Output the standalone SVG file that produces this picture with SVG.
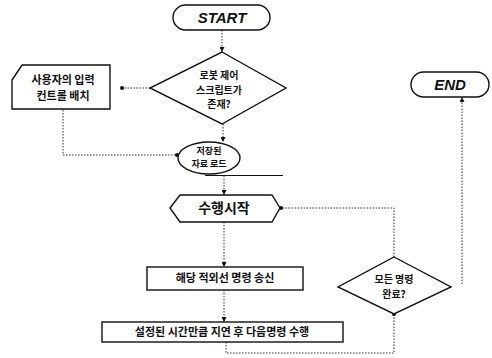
<svg xmlns="http://www.w3.org/2000/svg" width="492" height="358" viewBox="0 0 492 358">
<defs>
<style>
.shape{fill:#fff;stroke:#111;stroke-width:1.4}
.conn{fill:none;stroke:#333;stroke-width:1;stroke-dasharray:1.5 1.5}
.t{font-family:"Noto Sans CJK KR","Noto Sans",sans-serif;font-weight:bold;font-size:11px;fill:#111;text-anchor:middle}
.s10{font-size:10px}
.s9{font-size:9px}
.big{font-size:14px}
.term{font-family:"Liberation Sans",Arial,sans-serif;font-weight:bold;font-style:italic;font-size:15px;fill:#111;text-anchor:middle}
</style>
<marker id="arr" viewBox="0 0 6 6" refX="6" refY="3" markerWidth="5" markerHeight="5" orient="auto">
<path d="M0,0 L6,3 L0,6 z" fill="#111"/>
</marker>
<marker id="dot" viewBox="0 0 6 6" refX="3" refY="3" markerWidth="4" markerHeight="4">
<circle cx="3" cy="3" r="3" fill="#111"/>
</marker>
</defs>
<rect width="492" height="358" fill="#fff"/>
<g id="connectors">
<path class="conn" d="M222,30 V52" marker-end="url(#arr)"/>
<path class="conn" d="M150,88 H122" marker-end="url(#dot)"/>
<path class="conn" d="M63,110 V155 H177" marker-end="url(#dot)"/>
<path class="conn" d="M223,124 V142" marker-end="url(#arr)"/>
<path d="M205,175.5 H283" stroke="#111" stroke-width="1.2"/>
<path class="conn" d="M224,176 V195" marker-end="url(#arr)"/>
<path class="conn" d="M224,222 V267" marker-end="url(#arr)"/>
<path class="conn" d="M224,290 V322" marker-end="url(#arr)"/>
<path class="conn" d="M226,342 V353 H394 V314" marker-end="url(#dot)"/>
<path class="conn" d="M394,257 V208 H281" marker-end="url(#dot)"/>
<path class="conn" d="M462,284 V97" marker-end="url(#arr)"/>
</g>
<g id="start">
<rect class="shape" x="173" y="5" width="97" height="25" rx="12.5"/>
<text class="term" x="222" y="23">START</text>
</g>
<g id="end">
<rect class="shape" x="411" y="72" width="78" height="25" rx="12.5"/>
<text class="term" x="450" y="90">END</text>
</g>
<g id="decision-script">
<polygon class="shape" points="222,52 286,88 222,124 150,88"/>
<text class="t s10" x="219" y="79">로봇 제어</text>
<text class="t s10" x="219" y="93.5">스크립트가</text>
<text class="t s10" x="219" y="108">존재?</text>
</g>
<g id="input-control">
<polygon class="shape" points="22,65 110,65 110,109 12,109 12,80"/>
<text class="t" x="63" y="84">사용자의 입력</text>
<text class="t" x="63" y="100">컨트롤 배치</text>
</g>
<g id="load-data">
<ellipse class="shape" cx="209" cy="158" rx="31" ry="16"/>
<text class="t s9" x="209" y="154">저장된</text>
<text class="t s9" x="209" y="167">자료 로드</text>
</g>
<g id="run-start">
<polygon class="shape" points="170,208 180,195 272,195 280,208 272,222 180,222"/>
<text class="t big" x="224" y="213">수행시작</text>
</g>
<g id="send-ir">
<rect class="shape" x="147" y="267" width="156" height="23"/>
<text class="t" x="225" y="282">해당 적외선 명령 송신</text>
</g>
<g id="delay-next">
<rect class="shape" x="102" y="322" width="241" height="20"/>
<text class="t" x="222" y="336">설정된 시간만큼 지연 후 다음명령 수행</text>
</g>
<g id="decision-done">
<polygon class="shape" points="394,257 451,287 394,314 338,287"/>
<text class="t s10" x="394" y="283">모든 명령</text>
<text class="t s10" x="394" y="298">완료?</text>
</g>
</svg>
